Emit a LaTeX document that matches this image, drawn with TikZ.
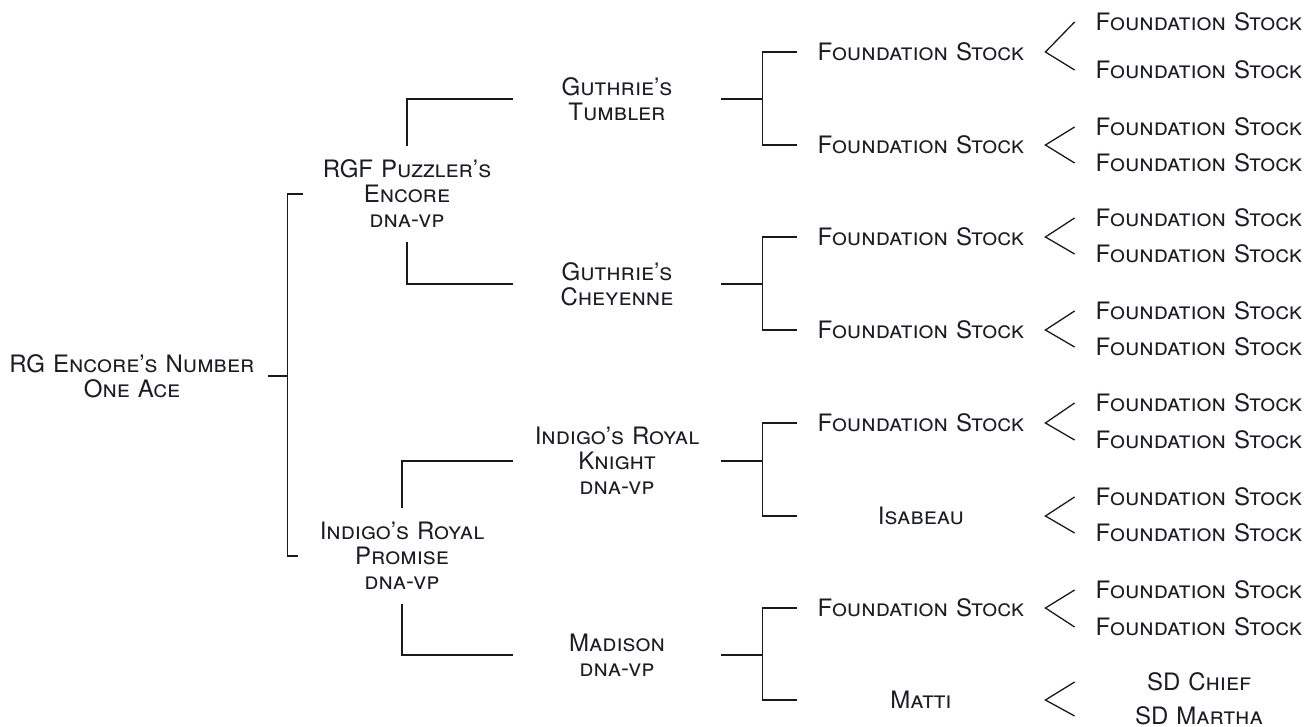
\documentclass[tikz,border=0pt]{standalone}
\usepackage{fontspec}
\setmainfont{TeX Gyre Heros}
\usepackage{tikz}
\usetikzlibrary{calc}
\definecolor{ink}{HTML}{1C1C26}
\definecolor{wire}{HTML}{1A1A1A}
\tikzset{
  link/.style={line width=0.65pt, draw=wire},
  dog/.style={text=ink, font=\fontsize{12}{12.5}\selectfont\scshape, align=center, inner sep=2pt},
  dogA/.style={dog, text width=132pt},
  dogB/.style={dog, text width=100pt, inner ysep=7pt},
  dogC/.style={dog, text width=100pt},
  dogD/.style={dog, text width=120pt}
}
\begin{document}
\begin{tikzpicture}[x=0.5pt,y=-0.5pt]
  \useasboundingbox (0,0) rectangle (1308,727);

  % dog, parents, grandparents
  \node[dogA] (ace) at (132,376) {RG Encore's Number\\One Ace};
  \node[dogB] (puz) at (407,194) {RGF Puzzler's\\Encore\\dna-vp};
  \node[dogB] (prom) at (402,556) {Indigo's Royal\\Promise\\dna-vp};
  \node[dogC] (tum) at (617,99) {Guthrie's\\Tumbler};
  \node[dogC] (chey) at (617,284) {Guthrie's\\Cheyenne};
  \node[dogC] (kni) at (617,461) {Indigo's Royal\\Knight\\dna-vp};
  \node[dogC] (mad) at (617,655) {Madison\\dna-vp};

  % great-grandparents
  \foreach \y/\txt [count=\i] in {52/Foundation Stock, 145/Foundation Stock,
      237/Foundation Stock, 330/Foundation Stock, 423/Foundation Stock,
      516/Isabeau, 608/Foundation Stock, 700/Matti}
    \node[dogD] (p\i) at (921,\y) {\txt};

  % great-great-grandparents
  \foreach \y [count=\i] in {22,70,127,163,218,254,311,347,403,440,497,533,590,627}
    \node[dogD] (q\i) at (1199,\y) {Foundation Stock};
  \node[dogD] (q15) at (1199,682) {SD Chief};
  \node[dogD] (q16) at (1199,716) {SD Martha};

  \draw[link] (ace.east) -- ++(19,0) coordinate (aj);
  \draw[link] (puz.west) -| (aj) |- (prom.west);

  \draw[link] (puz.north) |- (tum.west);
  \draw[link] (puz.south) |- (chey.west);
  \draw[link] (prom.north) |- (kni.west);
  \draw[link] (prom.south) |- (mad.west);

  \foreach \a/\b/\c in {tum/p1/p2, chey/p3/p4, kni/p5/p6, mad/p7/p8}
    \draw[link] (\b.west) -| ($(\a.east)+(41,0)$) |- (\c.west)
      (\a.east) -- ++(41,0);

  \foreach \p/\a/\b in {p1/q1/q2, p2/q3/q4, p3/q5/q6, p4/q7/q8,
      p5/q9/q10, p6/q11/q12, p7/q13/q14, p8/q15/q16}
    \draw[link] (\a.west) -- (\p.east) -- (\b.west);
\end{tikzpicture}
\end{document}
